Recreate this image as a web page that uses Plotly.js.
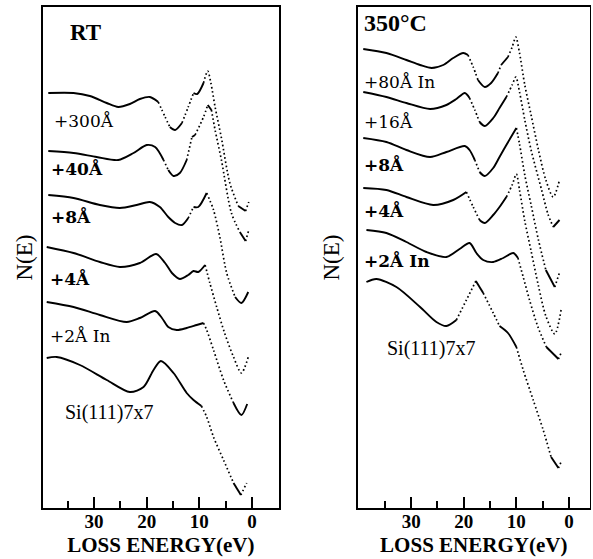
<!DOCTYPE html>
<html>
<head>
<meta charset="utf-8">
<script src="https://cdn.plot.ly/plotly-3.0.1.min.js"></script>
<style>html,body{margin:0;padding:0;background:#fff}#chart{width:593px;height:559px}</style>
</head>
<body>
<div id="chart"></div>
<script>
// ---------- DATA (loss energy in eV, N(E) in arbitrary units, curves stacked) ----------
// Left panel: RT
const rtLabels = ["+300Å", "+40Å", "+8Å", "+4Å", "+2Å In", "Si(111)7x7"];
const rtE300 = [38.7, 33.9, 30.8, 27.6, 25.4, 23.2, 21.3, 19.4, 17.8, 16.5, 15.6, 14.6, 13.3, 12.1, 11.1, 10.4, 9.2, 8.4, 7.8, 7.0, 5.8, 4.2, 2.6, 1.2, 0.6];
const rtN300 = [415, 415, 412, 405, 401, 404, 409, 411, 406, 391, 381, 378, 385, 401, 415, 414, 425, 437, 425, 401, 370, 325, 302, 297, 306];
const rtE40 = [38.7, 33.9, 29.5, 25.4, 22.5, 20.0, 18.4, 16.8, 15.9, 14.9, 13.7, 12.4, 11.4, 10.8, 9.2, 8.4, 7.7, 7.0, 5.8, 3.9, 2.3, 1.2, 0.6];
const rtN40 = [357, 355, 351, 348, 355, 363, 361, 348, 338, 332, 335, 348, 371, 373, 391, 403, 398, 378, 348, 295, 276, 267, 278];
const rtE8 = [38.7, 33.9, 28.9, 25.1, 21.9, 19.4, 17.5, 15.9, 14.6, 13.3, 12.1, 11.1, 10.2, 8.6, 7.3, 6.1, 4.8, 3.2, 2.0, 0.7];
const rtN8 = [313, 310, 303, 300, 303, 306, 301, 291, 285, 283, 290, 301, 301, 315, 298, 271, 235, 211, 205, 216];
const rtE4 = [39.0, 33.9, 28.9, 25.1, 21.3, 18.2, 16.5, 15.2, 13.7, 12.1, 11.1, 10.2, 8.9, 8.0, 6.7, 5.2, 3.5, 2.0, 0.7];
const rtN4 = [261, 255, 246, 241, 245, 254, 245, 235, 229, 233, 237, 236, 243, 225, 201, 175, 151, 135, 151];
const rtE2 = [39.0, 33.9, 28.9, 23.8, 21.3, 18.4, 17.1, 15.9, 14.3, 12.4, 10.5, 9.2, 8.6, 7.3, 5.4, 3.5, 2.0, 0.9];
const rtN2 = [206, 201, 193, 186, 190, 197, 190, 181, 178, 180, 183, 185, 178, 158, 128, 105, 93, 104];
const rtESi = [39.0, 37.1, 32.7, 27.6, 23.2, 20.6, 18.7, 17.3, 14.9, 12.4, 11.1, 9.6, 8.6, 7.3, 5.4, 3.5, 2.1, 1.0];
const rtNSi = [150, 151, 143, 128, 116, 121, 138, 147, 135, 115, 108, 102, 91, 71, 48, 25, 13, 25];

// Right panel: 350°C
const htLabels = ["+80Å In", "+16Å", "+8Å", "+4Å", "+2Å In", "Si(111)7x7"];
const htE80 = [39.1, 34.7, 30.9, 28.3, 26.1, 23.9, 22.0, 20.1, 19.2, 18.2, 17.3, 16.0, 14.8, 13.5, 12.9, 11.6, 10.8, 10.1, 9.4, 8.4, 7.2, 5.8, 4.4, 3.0, 1.8];
const htN80 = [459, 455, 448, 443, 440, 443, 450, 455, 453, 441, 428, 421, 425, 435, 443, 451, 461, 471, 455, 423, 393, 358, 328, 311, 328];
const htE16 = [39.1, 34.7, 30.9, 26.4, 23.3, 21.4, 19.8, 18.9, 17.9, 17.0, 16.0, 14.4, 13.2, 11.9, 10.8, 10.1, 9.4, 8.4, 7.2, 5.2, 4.0, 3.0, 1.8];
const htN16 = [416, 411, 405, 399, 403, 409, 415, 410, 398, 386, 382, 390, 400, 411, 423, 431, 416, 388, 358, 318, 294, 281, 288];
const htE8 = [39.1, 34.7, 30.9, 26.4, 23.3, 19.8, 18.9, 17.9, 17.0, 16.0, 14.4, 13.2, 11.9, 10.0, 9.4, 8.4, 7.2, 5.8, 4.4, 2.7, 1.7];
const htN8 = [370, 366, 358, 351, 356, 362, 358, 348, 336, 332, 340, 351, 363, 380, 364, 333, 303, 268, 238, 221, 237];
const htE4 = [39.1, 34.7, 30.9, 25.8, 22.0, 19.5, 18.2, 17.0, 16.0, 14.4, 13.2, 11.9, 10.8, 10.0, 9.4, 8.4, 7.2, 5.8, 4.4, 2.7, 1.5];
const htN4 = [320, 318, 311, 303, 308, 316, 301, 288, 285, 293, 301, 311, 323, 334, 318, 287, 257, 222, 192, 174, 198];
const htE2 = [38.5, 34.7, 30.9, 27.1, 23.3, 20.8, 18.9, 17.6, 16.3, 14.4, 12.5, 10.6, 9.7, 8.7, 7.5, 5.9, 4.3, 2.0, 1.5];
const htN2 = [278, 275, 266, 256, 251, 259, 265, 255, 248, 246, 250, 255, 250, 231, 208, 181, 161, 149, 155];
const htESi = [38.5, 36.6, 32.8, 28.3, 25.2, 23.3, 21.4, 19.5, 17.7, 16.3, 14.4, 13.2, 11.6, 10.0, 8.7, 6.8, 4.9, 3.4, 2.0, 1.5];
const htNSi = [226, 229, 221, 201, 186, 182, 188, 208, 227, 215, 195, 182, 175, 161, 138, 108, 78, 51, 40, 46];

// Axis ticks
const majorTicks = [0, 10, 20, 30];
const majorTickText = ["0", "10", "20", "30"];
const minorTicks = [5, 15, 25, 35];

// Label anchors (energy of left edge, N(E) level)
const rtLabelE = [38.0, 38.5, 38.5, 38.7, 38.7, 35.9];
const rtLabelN = [387, 339, 291, 230, 172, 96];
const rtLabelBold = [false, true, true, true, false, false];
const htLabelE = [39.3, 39.3, 39.3, 39.3, 39.3, 34.9];
const htLabelN = [426, 386, 343, 297, 248, 160];
const htLabelBold = [false, false, true, true, true, false];

// ---------- LAYOUT ----------
const W = 593, H = 559;
const leftDom = [42.5 / W, 279.3 / W];
const rightDom = [358 / W, 589.5 / W];
const yDom = [51 / H, 552 / H];
const leftRange = [39.8, -5.2];
const rightRange = [40.1, -3.9];
const yRange = [0, 501];

const pxPerE_L = W * (leftDom[1] - leftDom[0]) / Math.abs(leftRange[0] - leftRange[1]);
const pxPerE_R = W * (rightDom[1] - rightDom[0]) / Math.abs(rightRange[0] - rightRange[1]);
const pxPerN = H * (yDom[1] - yDom[0]) / (yRange[1] - yRange[0]);

// split a curve into solid (shallow) and dotted (steep) stretches, like the plotter trace
function pieces(E, N, pxE, xa, ya) {
  const groups = [];
  let cur = null;
  for (let i = 0; i < E.length - 1; i++) {
    const slope = Math.abs(N[i + 1] - N[i]) * pxPerN / (Math.abs(E[i + 1] - E[i]) * pxE);
    const dotted = slope > 2.0;
    if (!cur || cur.dotted !== dotted) {
      cur = { dotted: dotted, x: [E[i]], y: [N[i]] };
      groups.push(cur);
    }
    cur.x.push(E[i + 1]);
    cur.y.push(N[i + 1]);
  }
  return groups.map(g => ({
    type: 'scatter', mode: 'lines', x: g.x, y: g.y, xaxis: xa, yaxis: ya,
    hoverinfo: 'skip', showlegend: false,
    line: g.dotted
      ? { color: '#000', width: 1.7, shape: 'spline', smoothing: 0.8, dash: '1.6px,2.6px' }
      : { color: '#000', width: 1.9, shape: 'spline', smoothing: 0.8 }
  }));
}

const leftCurves = [[rtE300, rtN300], [rtE40, rtN40], [rtE8, rtN8], [rtE4, rtN4], [rtE2, rtN2], [rtESi, rtNSi]];
const rightCurves = [[htE80, htN80], [htE16, htN16], [htE8, htN8], [htE4, htN4], [htE2, htN2], [htESi, htNSi]];

let traces = [];
leftCurves.forEach(c => { traces = traces.concat(pieces(c[0], c[1], pxPerE_L, 'x', 'y')); });
rightCurves.forEach(c => { traces = traces.concat(pieces(c[0], c[1], pxPerE_R, 'x2', 'y2')); });

const serif = 'Liberation Serif, Times New Roman, serif';
const labelFont = 'DejaVu Serif, serif';

function xaxisDef(dom, rng) {
  return {
    domain: dom, range: rng, autorange: false, showgrid: false, zeroline: false,
    showline: true, mirror: true, linecolor: '#000', linewidth: 1.6,
    ticks: 'inside', ticklen: 11, tickwidth: 2, tickcolor: '#000',
    tickmode: 'array', tickvals: majorTicks, ticktext: majorTickText,
    tickfont: { family: serif, size: 19, color: '#000', weight: 'bold' },
    ticklabelstandoff: -4,
    minor: { tickmode: 'array', tickvals: minorTicks, ticks: 'inside', ticklen: 7, tickwidth: 2, tickcolor: '#000', showgrid: false },
    title: { text: 'LOSS ENERGY(eV)', font: { family: serif, size: 21, color: '#000', weight: 'bold' }, standoff: 6 },
    automargin: false, fixedrange: true
  };
}
function yaxisDef(anchor, standoff) {
  return {
    domain: yDom, range: yRange, autorange: false, anchor: anchor,
    showgrid: false, zeroline: false, showline: true, mirror: true,
    linecolor: '#000', linewidth: 1.6, ticks: '', showticklabels: false,
    title: { text: 'N(E)', font: { family: serif, size: 23, color: '#000' }, standoff: standoff },
    automargin: false, fixedrange: true
  };
}

const annotations = [];
rtLabels.forEach((t, i) => annotations.push({
  xref: 'x', yref: 'y', x: rtLabelE[i], y: rtLabelN[i], text: t, showarrow: false,
  xanchor: 'left', yanchor: 'middle',
  font: i === 5 ? { family: serif, size: 20, color: '#000' }
               : { family: labelFont, size: 17, color: '#000', weight: rtLabelBold[i] ? 'bold' : 'normal' }
}));
htLabels.forEach((t, i) => annotations.push({
  xref: 'x2', yref: 'y2', x: htLabelE[i], y: htLabelN[i], text: t, showarrow: false,
  xanchor: 'left', yanchor: 'middle',
  font: i === 5 ? { family: serif, size: 20, color: '#000' }
               : { family: labelFont, size: 17, color: '#000', weight: htLabelBold[i] ? 'bold' : 'normal' }
}));
annotations.push({ xref: 'x', yref: 'y', x: 34.9, y: 475, text: 'RT', showarrow: false,
  xanchor: 'left', yanchor: 'middle', font: { family: serif, size: 23, color: '#000', weight: 'bold' } });
annotations.push({ xref: 'x2', yref: 'y2', x: 39.3, y: 485, text: '350°C', showarrow: false,
  xanchor: 'left', yanchor: 'middle', font: { family: serif, size: 24, color: '#000', weight: 'bold' } });

const layout = {
  width: W, height: H, margin: { l: 0, r: 0, t: 0, b: 0 },
  paper_bgcolor: '#fff', plot_bgcolor: '#fff', showlegend: false, hovermode: false,
  xaxis: Object.assign(xaxisDef(leftDom, leftRange), { anchor: 'y' }),
  yaxis: yaxisDef('x', 2),
  xaxis2: Object.assign(xaxisDef(rightDom, rightRange), { anchor: 'y2' }),
  yaxis2: yaxisDef('x2', 10),
  annotations: annotations
};

Plotly.newPlot('chart', traces, layout, { displayModeBar: false, staticPlot: true });
</script>
</body>
</html>
